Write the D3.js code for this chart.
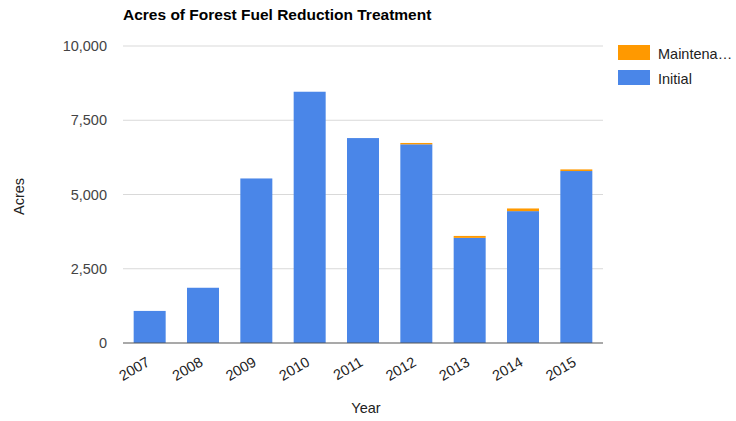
<!DOCTYPE html>
<html>
<head>
<meta charset="utf-8">
<script src="https://cdn.jsdelivr.net/npm/d3@7"></script>
<style>
  html, body { margin: 0; padding: 0; background: #fff; }
  svg { display: block; font-family: "Liberation Sans", Arial, sans-serif; }
</style>
</head>
<body>
<svg id="chart" width="736" height="421"></svg>
<script>
// Acres treated per year, split by treatment type
const years = ["2007", "2008", "2009", "2010", "2011", "2012", "2013", "2014", "2015"];
const initial = [1080, 1860, 5540, 8460, 6900, 6690, 3540, 4440, 5790];
const maintenance = [0, 0, 0, 0, 0, 45, 65, 90, 55];
const seriesNames = ["Maintenance", "Initial"];
const yTicks = [0, 2500, 5000, 7500, 10000];

const colors = { Initial: "#4a86e8", Maintenance: "#ff9900" };

const svg = d3.select("#chart");
const margin = { top: 46, right: 133, bottom: 78, left: 123 };
const width = 736 - margin.left - margin.right;
const height = 421 - margin.top - margin.bottom;

const g = svg.append("g").attr("transform", `translate(${margin.left},${margin.top})`);

const x = d3.scaleBand().domain(years).range([0, width]).paddingInner(0.4).paddingOuter(0.2);
const y = d3.scaleLinear().domain([0, 10000]).range([height, 0]);

// Gridlines
g.append("g")
  .selectAll("line")
  .data(yTicks.filter(d => d > 0))
  .join("line")
  .attr("x1", 0).attr("x2", width)
  .attr("y1", d => y(d)).attr("y2", d => y(d))
  .attr("stroke", "#d9d9d9").attr("stroke-width", 1);

// Stacked bars
const rows = years.map((yr, i) => ({ year: yr, Initial: initial[i], Maintenance: maintenance[i] }));
const stack = d3.stack().keys(["Initial", "Maintenance"])(rows);

g.append("g")
  .selectAll("g")
  .data(stack)
  .join("g")
  .attr("fill", s => colors[s.key])
  .selectAll("rect")
  .data(s => s)
  .join("rect")
  .attr("x", d => x(d.data.year))
  .attr("width", x.bandwidth())
  .attr("y", d => y(d[1]))
  .attr("height", d => y(d[0]) - y(d[1]));

// Baseline
g.append("line")
  .attr("x1", 0).attr("x2", width)
  .attr("y1", y(0)).attr("y2", y(0))
  .attr("stroke", "#555").attr("stroke-width", 1.2);

// Y axis labels
const yAxis = g.append("g")
  .call(d3.axisLeft(y).tickValues(yTicks).tickFormat(d3.format(",")).tickSize(0).tickPadding(16));
yAxis.select(".domain").remove();
yAxis.selectAll("text").attr("fill", "#444").attr("font-size", 14.5);

// X axis labels, rotated
const xAxis = g.append("g")
  .attr("transform", `translate(0,${height})`)
  .call(d3.axisBottom(x).tickSize(0).tickPadding(0));
xAxis.select(".domain").remove();
xAxis.selectAll("text")
  .attr("fill", "#222").attr("font-size", 14.5)
  .attr("text-anchor", "end")
  .attr("dy", 0)
  .attr("transform", "translate(1,22) rotate(-30)");

// Axis titles
svg.append("text")
  .attr("x", margin.left + width / 2 + 3).attr("y", 413)
  .attr("text-anchor", "middle").attr("font-size", 14.5).attr("fill", "#222")
  .text("Year");

svg.append("text")
  .attr("transform", `translate(24,${margin.top + height / 2 + 2}) rotate(-90)`)
  .attr("text-anchor", "middle").attr("font-size", 14.5).attr("fill", "#222")
  .text("Acres");

// Title
svg.append("text")
  .attr("x", 123).attr("y", 20)
  .attr("font-size", 15.5).attr("font-weight", "bold").attr("fill", "#000")
  .text("Acres of Forest Fuel Reduction Treatment");

// Legend
const legend = svg.append("g").attr("transform", "translate(618,45)");
const legendLabels = { Maintenance: "Maintena…", Initial: "Initial" };
seriesNames.forEach((name, i) => {
  const row = legend.append("g").attr("transform", `translate(0,${i * 25})`);
  row.append("rect").attr("width", 32).attr("height", 15).attr("fill", colors[name]);
  row.append("text").attr("x", 40).attr("y", 14)
    .attr("font-size", 14.5).attr("fill", "#222")
    .text(legendLabels[name]);
});
</script>
</body>
</html>
